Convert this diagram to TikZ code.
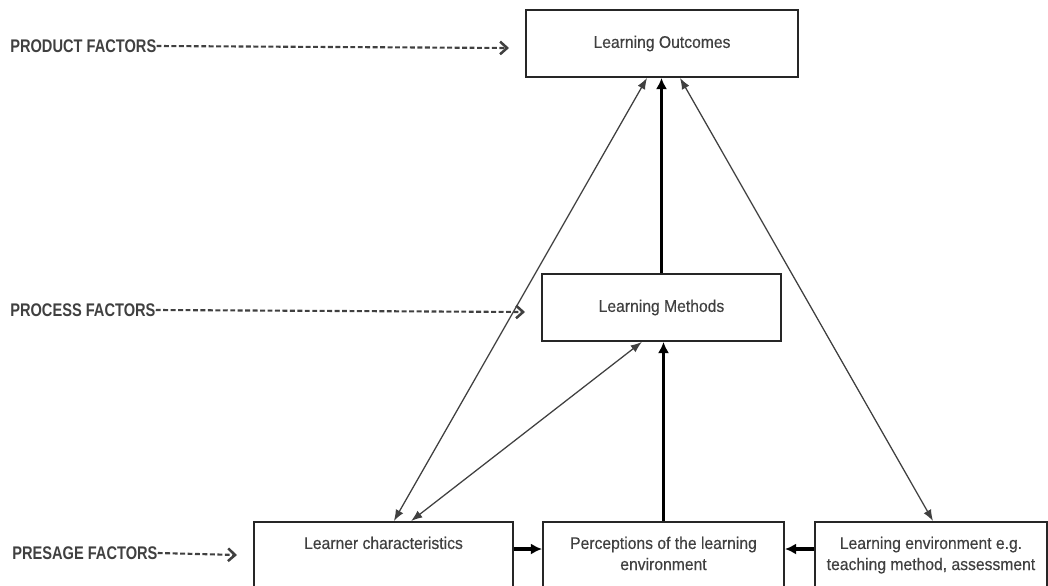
\documentclass[tikz,border=0pt]{standalone}
\usepackage{fontspec}
\setmainfont{Liberation Sans}[FakeStretch=0.93, FakeBold=0.4]
\newfontfamily\factorfont{Liberation Sans}[FakeStretch=0.8]
\usetikzlibrary{arrows.meta}

\tikzset{
  box/.style = {draw=black!85, line width=1.3pt, inner sep=0pt, align=center, text=black!75},
  factor/.style = {anchor=west, inner sep=0pt, text=black!75,
    font=\factorfont\bfseries\fontsize{13}{15}\selectfont},
  lead/.style = {draw=black!75, line width=1.5pt, dash pattern=on 3.5pt off 1.8pt,
    -{Straight Barb[length=5pt,width=9pt,line width=1.8pt]}},
  link/.style = {draw=black!75, line width=0.9pt,
    {Latex[length=8pt,width=6pt]}-{Latex[length=8pt,width=6pt]}},
  flow/.style = {draw=black, line width=2.4pt, -{Latex[length=8pt,width=8pt]}}
}

\begin{document}
\begin{tikzpicture}[x=0.025cm, y=-0.025cm, font=\fontsize{12}{15}\selectfont]
  \useasboundingbox (0,0) rectangle (1048,586);

  % factor levels
  \node[factor] (prod) at (10,46) {PRODUCT FACTORS};
  \node[factor] (proc) at (10,310) {PROCESS FACTORS};
  \node[factor] (pres) at (12,553) {PRESAGE FACTORS};
  \coordinate (prodtip) at (509,48);
  \coordinate (proctip) at (525,312);
  \coordinate (prestip) at (237,555);

  % boxes
  \node[box, minimum width=6.8cm, minimum height=1.675cm] (out) at (662,43.5) {Learning Outcomes};
  \node[box, minimum width=5.975cm, minimum height=1.675cm] (meth) at (661.5,307.5) {Learning Methods};
  \node[box, anchor=north, inner ysep=0.37cm] (learner) at (383.5,521)
    {\parbox[t][1.1cm][t]{6.475cm}{\centering Learner characteristics}};
  \node[box, anchor=north, inner ysep=0.37cm] (percep) at (663.5,521)
    {\parbox[t][1.1cm][t]{6.025cm}{\centering Perceptions of the learning\\ environment}};
  \node[box, anchor=north, inner ysep=0.37cm] (env) at (931,521)
    {\parbox[t][1.1cm][t]{5.8cm}{\centering Learning environment e.g.\\ teaching method, assessment}};

  % dashed leads
  \draw[lead] (prod.east) -- (prodtip);
  \draw[lead] (proc.east) -- (proctip);
  \draw[lead] (pres.east) -- (prestip);

  % links
  \draw[link] ([xshift=-0.375cm]out.south) -- ([xshift=0.26cm]learner.north);
  \draw[link] ([xshift=0.45cm]out.south) -- ([xshift=0.05cm]env.north);
  \draw[link] ([xshift=-0.49cm]meth.south) -- ([xshift=0.69cm]learner.north);

  % main flow
  \draw[flow] (meth.north) -- (meth.north |- out.south);
  \draw[flow] (percep.north) -- (percep.north |- meth.south);
  \draw[flow] ([yshift=-0.7cm]learner.north east) -- ([yshift=-0.7cm]percep.north west);
  \draw[flow] ([yshift=-0.7cm]env.north west) -- ([yshift=-0.7cm]percep.north east);
\end{tikzpicture}
\end{document}
